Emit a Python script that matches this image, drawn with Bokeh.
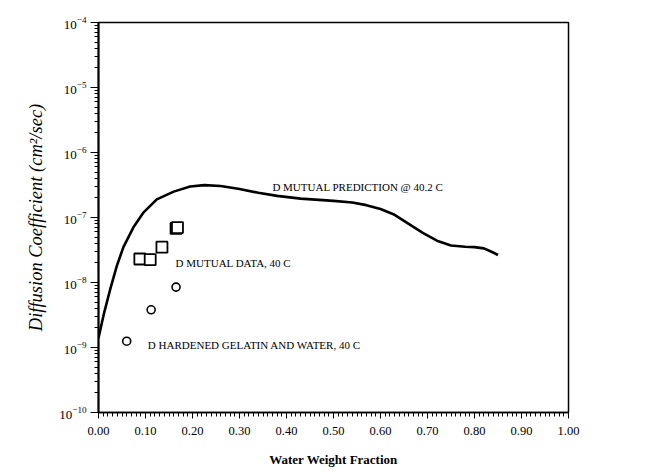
from bokeh.plotting import figure
from bokeh.models import FixedTicker, LogTickFormatter, CustomJSTickFormatter, Label
from bokeh.embed import file_html
from bokeh.resources import INLINE

# --- data -------------------------------------------------------------
pred_x = [0.000, 0.011, 0.025, 0.039, 0.053, 0.074, 0.096, 0.124, 0.160, 0.195,
          0.225, 0.260, 0.300, 0.340, 0.380, 0.430, 0.500, 0.540, 0.570, 0.600, 0.630,
          0.660, 0.690, 0.720, 0.750, 0.780, 0.800, 0.820, 0.835, 0.850]
pred_y = [1.4e-9, 3.2e-9, 7.9e-9, 1.8e-8, 3.5e-8, 7.0e-8, 1.2e-7, 1.9e-7, 2.5e-7, 3.0e-7,
          3.15e-7, 3.05e-7, 2.75e-7, 2.4e-7, 2.15e-7, 1.95e-7, 1.8e-7, 1.7e-7, 1.55e-7, 1.35e-7, 1.1e-7,
          8.0e-8, 5.8e-8, 4.4e-8, 3.7e-8, 3.55e-8, 3.5e-8, 3.35e-8, 3.0e-8, 2.65e-8]

mutual_x = [0.088, 0.110, 0.135, 0.165, 0.168]
mutual_y = [2.3e-8, 2.25e-8, 3.5e-8, 6.8e-8, 7.0e-8]

hardened_x = [0.060, 0.112, 0.165]
hardened_y = [1.25e-9, 3.8e-9, 8.5e-9]

x_ticks = [0.0, 0.1, 0.2, 0.3, 0.4, 0.5, 0.6, 0.7, 0.8, 0.9, 1.0]
y_ticks = [1e-10, 1e-9, 1e-8, 1e-7, 1e-6, 1e-5, 1e-4]

label_pred = "D MUTUAL PREDICTION @ 40.2 C"
label_mutual = "D MUTUAL DATA, 40 C"
label_hard = "D HARDENED GELATIN AND WATER, 40 C"

SERIF = "Liberation Serif"

W, H = 639, 469
TOP, LEFT, FRAME_W, FRAME_H = 22, 98, 470, 392
p = figure(width=W, height=H, x_range=(0, 1.0), y_range=(1e-10, 1e-4),
           y_axis_type="log", output_backend="svg", toolbar_location=None,
           min_border_left=LEFT, min_border_right=W - LEFT - FRAME_W, min_border_top=TOP,
           min_border_bottom=H - TOP - FRAME_H)
p.background_fill_color = "white"
p.border_fill_color = "white"
p.outline_line_color = "black"
p.outline_line_width = 1.5
p.grid.visible = False

# x axis
xa = p.xaxis[0]
xa.ticker = FixedTicker(ticks=x_ticks, minor_ticks=[i / 100 for i in range(101)])
xa.formatter = CustomJSTickFormatter(code="return tick.toFixed(2);")
xa.axis_label = "Water Weight Fraction"
xa.axis_label_text_font = SERIF
xa.axis_label_text_font_style = "bold"
xa.axis_label_text_font_size = "13px"
xa.axis_label_text_color = "black"
xa.axis_label_standoff = 14
xa.major_label_text_font = SERIF
xa.major_label_text_font_size = "12.5px"
xa.major_label_text_color = "black"
xa.major_label_standoff = 8
xa.axis_line_width = 1.5
xa.major_tick_in = 0
xa.major_tick_out = 6
xa.minor_tick_in = 0
xa.minor_tick_out = 4

# y axis
ya = p.yaxis[0]
ya.ticker = FixedTicker(ticks=y_ticks,
                        minor_ticks=[m * 10.0 ** e for e in range(-10, -4) for m in range(2, 10)])
ya.formatter = LogTickFormatter(min_exponent=0)
ya.axis_label = "Diffusion Coefficient (cm\u00b2/sec)"
ya.axis_label_text_font = SERIF
ya.axis_label_text_font_style = "italic"
ya.axis_label_text_font_size = "18.5px"
ya.axis_label_text_color = "black"
ya.axis_label_standoff = 10
ya.major_label_text_font = SERIF
ya.major_label_text_font_size = "13px"
ya.major_label_text_color = "black"
ya.major_label_standoff = 4
ya.axis_line_width = 2
ya.major_tick_in = 0
ya.major_tick_out = 8
ya.minor_tick_in = 0
ya.minor_tick_out = 4

# prediction curve
p.line(pred_x, pred_y, line_color="black", line_width=2.6, line_join="round")

# data
p.scatter(mutual_x, mutual_y, marker="square", size=11, fill_color="white",
          line_color="black", line_width=1.8)
p.scatter(hardened_x, hardened_y, marker="circle", size=8, fill_color="white",
          line_color="black", line_width=1.6)

# labels
for txt, x, y in [(label_pred, 0.37, 2.9e-7), (label_mutual, 0.164, 2.0e-8),
                  (label_hard, 0.105, 1.1e-9)]:
    p.add_layout(Label(x=x, y=y, text=txt, text_font=SERIF, text_font_size="11px",
                       text_baseline="middle", text_align="left", text_color="black"))

open("out.html", "w").write(file_html(p, INLINE))
